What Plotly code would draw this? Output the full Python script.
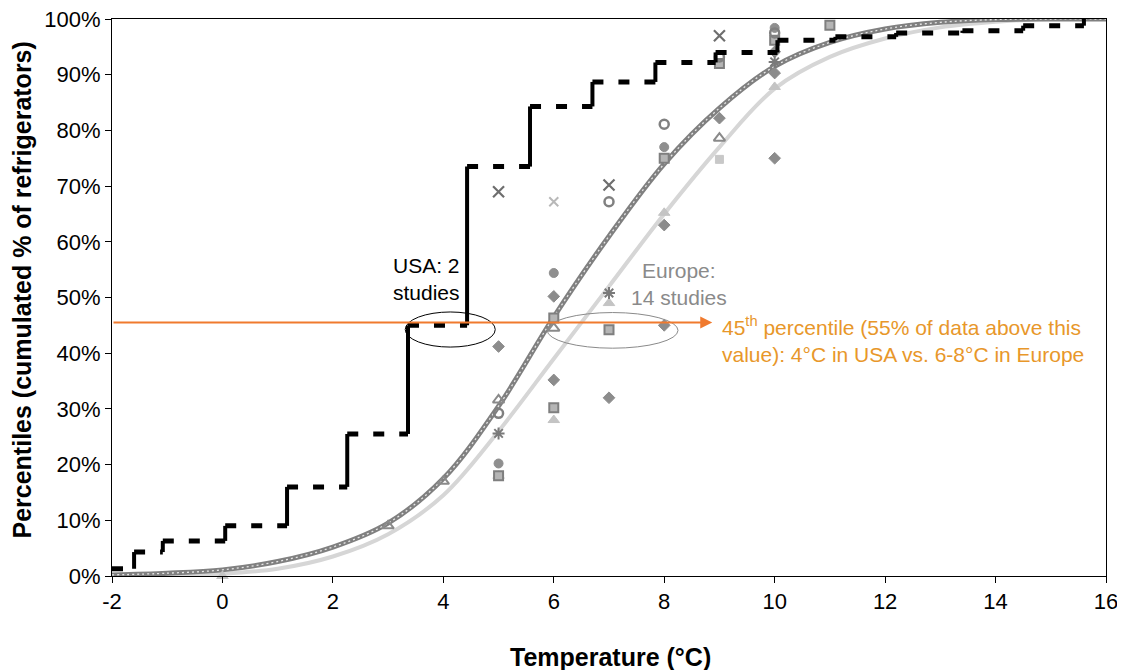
import plotly.graph_objects as go

# ---------------- data ----------------
# USA step function (2 studies): breakpoints (°C) and cumulative level (%) after each breakpoint
usa_break_x = [-2.0, -1.6, -1.08, 0.05, 1.17, 2.26, 3.36, 4.43, 5.57, 6.7, 7.84, 8.93, 10.05, 11.1, 12.2, 13.4, 14.5, 15.6]
usa_level_y = [1.3, 4.3, 6.3, 9.0, 16.0, 25.5, 45.0, 73.5, 84.3, 88.7, 92.2, 94.0, 96.2, 96.8, 97.5, 97.9, 98.8, 100.0]

# Fitted distribution curves
curve_t = [-2, -1, 0, 1, 2, 3, 4, 5, 6, 7, 8, 9, 10, 11, 12, 13, 14, 15, 16]
fit_dark = [0.2, 0.5, 1.1, 2.6, 5.2, 9.5, 17.5, 30.5, 46.5, 61, 74, 84, 91.5, 95.8, 98.2, 99.4, 99.9, 100, 100]
fit_light = [0.0, 0.1, 0.4, 1.3, 3.5, 7.5, 14.5, 26, 39, 52, 65, 77, 87.5, 93.2, 96.5, 98.5, 99.5, 100, 100]

# Europe studies (scatter, grouped by marker)
eu_diamond_x = [5, 6, 6, 7, 8, 8, 9, 10, 10, 10]
eu_diamond_y = [41.2, 35.2, 50.2, 32, 63, 45, 82.2, 94.1, 90.3, 75]
eu_square_x = [6, 6, 7, 8, 9, 10, 11, 5]
eu_square_y = [46.3, 30.2, 44.2, 75, 92, 96.2, 98.9, 18]
eu_triangle_x = [3, 4, 5, 6, 9]
eu_triangle_y = [9, 17, 31.6, 44.5, 78.6]
eu_ltriangle_x = [0, 5, 6, 7, 8, 10]
eu_ltriangle_y = [0, 18, 28, 49, 65.2, 87.8]
eu_circle_x = [5, 6, 8, 10]
eu_circle_y = [20.2, 54.4, 77, 98.4]
eu_ocircle_x = [5, 7, 8, 9, 10]
eu_ocircle_y = [29.2, 67.2, 81.1, 93.2, 97.5]
eu_x_x = [5, 7, 9]
eu_x_y = [69, 70.2, 97]
eu_lx_x = [6]
eu_lx_y = [67.2]
eu_star_x = [5, 7, 10]
eu_star_y = [25.6, 50.8, 92.3]
eu_lsquare_x = [9]
eu_lsquare_y = [74.8]

x_ticks = [-2, 0, 2, 4, 6, 8, 10, 12, 14, 16]
y_ticks = [0, 10, 20, 30, 40, 50, 60, 70, 80, 90, 100]
y_tick_text = [f"{v}%" for v in y_ticks]

percentile_level = 45.5
arrow_end_t = 8.87

FONT = "Arial, Liberation Sans, sans-serif"

fig = go.Figure()

# light fitted curve
fig.add_trace(go.Scatter(x=curve_t, y=fit_light, mode="lines",
                         line=dict(color="#d6d6d6", width=4, shape="spline"),
                         hoverinfo="skip", showlegend=False))
# dark fitted curve (circle-marker look)
fig.add_trace(go.Scatter(x=curve_t, y=fit_dark, mode="lines",
                         line=dict(color="#808080", width=5, shape="spline"),
                         hoverinfo="skip", showlegend=False))
fig.add_trace(go.Scatter(x=curve_t, y=fit_dark, mode="lines",
                         line=dict(color="#e6e6e6", width=1.3, shape="spline", dash="2px,3px"),
                         hoverinfo="skip", showlegend=False))

# Europe scatter markers
def add_pts(xs, ys, symbol, color, size, lw=1.5, lc=None):
    fig.add_trace(go.Scatter(x=xs, y=ys, mode="markers", cliponaxis=False,
                             marker=dict(symbol=symbol, color=color, size=size,
                                         line=dict(color=lc or color, width=lw)),
                             hoverinfo="skip", showlegend=False))

add_pts(eu_ltriangle_x, eu_ltriangle_y, "triangle-up", "#c4c4c4", 10, 1)
add_pts(eu_diamond_x, eu_diamond_y, "diamond", "#8c8c8c", 9, 1)
add_pts(eu_square_x, eu_square_y, "square", "#b5b5b5", 9, 2, "#7f7f7f")
add_pts(eu_triangle_x, eu_triangle_y, "triangle-up-open", "#8a8a8a", 10, 2)
add_pts(eu_circle_x, eu_circle_y, "circle", "#8f8f8f", 9, 1)
add_pts(eu_ocircle_x, eu_ocircle_y, "circle-open", "#808080", 9, 2.5)
add_pts(eu_x_x, eu_x_y, "x-thin-open", "#6e6e6e", 11, 2.2)
add_pts(eu_lx_x, eu_lx_y, "x-thin-open", "#b8b8b8", 9, 2)
add_pts(eu_star_x, eu_star_y, "asterisk-open", "#7a7a7a", 10, 2)
add_pts(eu_lsquare_x, eu_lsquare_y, "square", "#c8c8c8", 8, 1)

# USA step function: dashed horizontals, solid verticals
hx, hy, vx, vy = [], [], [], []
for i in range(len(usa_break_x) - 1):
    hx += [usa_break_x[i], usa_break_x[i + 1], None]
    hy += [usa_level_y[i], usa_level_y[i], None]
    vx += [usa_break_x[i + 1], usa_break_x[i + 1], None]
    vy += [usa_level_y[i], usa_level_y[i + 1], None]
fig.add_trace(go.Scatter(x=hx, y=hy, mode="lines", connectgaps=False, cliponaxis=False,
                         line=dict(color="black", width=5, dash="11px,15px"),
                         hoverinfo="skip", showlegend=False))
fig.add_trace(go.Scatter(x=vx, y=vy, mode="lines", connectgaps=False, cliponaxis=False,
                         line=dict(color="black", width=4),
                         hoverinfo="skip", showlegend=False))

# ellipses
fig.add_shape(type="circle", xref="x", yref="y", x0=3.31, x1=4.94, y0=41.1, y1=47.4,
              line=dict(color="black", width=1))
fig.add_shape(type="circle", xref="x", yref="y", x0=5.88, x1=8.25, y0=40.9, y1=47.3,
              line=dict(color="#8a8a8a", width=1))

# orange 45th percentile arrow
fig.add_annotation(x=arrow_end_t, y=percentile_level, ax=-2, ay=percentile_level,
                   xref="x", yref="y", axref="x", ayref="y", text="",
                   showarrow=True, arrowhead=2, arrowsize=1.2, arrowwidth=2,
                   arrowcolor="#f07a2e", standoff=0, startstandoff=0)

# text annotations
fig.add_annotation(x=4.34, y=53.3, xref="x", yref="y", text="USA: 2<br>studies",
                   showarrow=False, xanchor="right", yanchor="middle", align="right",
                   font=dict(family=FONT, size=21, color="black"))
fig.add_annotation(x=8.27, y=52.5, xref="x", yref="y", text="Europe:<br>14 studies",
                   showarrow=False, xanchor="center", yanchor="middle", align="center",
                   font=dict(family=FONT, size=21, color="#8a8a8a"))
fig.add_annotation(x=9.01, y=42.4, xref="x", yref="y",
                   text="45<sup>th</sup> percentile (55% of data above this<br>value): 4°C in USA vs. 6-8°C in Europe",
                   showarrow=False, xanchor="left", yanchor="middle", align="left",
                   font=dict(family=FONT, size=21, color="#e8972a"))

# axis titles (placed as annotations for exact positioning)
fig.add_annotation(x=0.502, y=-0.1454, xref="paper", yref="paper",
                   text="<b>Temperature (°C)</b>", showarrow=False,
                   xanchor="center", yanchor="middle",
                   font=dict(family=FONT, size=25, color="black"))
fig.add_annotation(x=-0.0905, y=0.5126, xref="paper", yref="paper",
                   text="<b>Percentiles (cumulated % of refrigerators)</b>", showarrow=False,
                   textangle=-90, xanchor="center", yanchor="middle",
                   font=dict(family=FONT, size=25, color="black"))

# page body adds 8px offset; compensate with a slightly smaller figure
fig.update_layout(
    width=1117, height=662,
    margin=dict(l=104, r=19, t=11, b=94),
    paper_bgcolor="white", plot_bgcolor="white",
    font=dict(family=FONT, color="black"),
)
fig.update_xaxes(range=[-2, 16], tickvals=x_ticks, ticktext=[str(v) for v in x_ticks],
                 automargin=False, ticklabeloverflow="allow",
                 showgrid=False, zeroline=False, showline=True, linecolor="black", linewidth=1,
                 mirror=True, ticks="outside", ticklen=6, tickcolor="black",
                 tickfont=dict(family=FONT, size=22, color="black"))
fig.update_yaxes(range=[0, 100], tickvals=y_ticks, ticktext=y_tick_text,
                 automargin=False, ticklabeloverflow="allow",
                 showgrid=False, zeroline=False, showline=True, linecolor="black", linewidth=1,
                 mirror=True, ticks="outside", ticklen=6, tickcolor="black",
                 tickfont=dict(family=FONT, size=22, color="black"))

fig.write_html("out.html")
